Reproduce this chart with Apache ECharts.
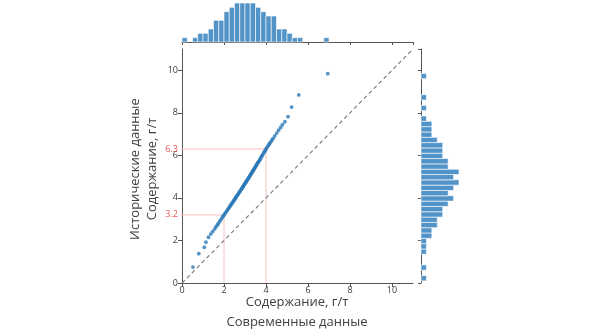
<!DOCTYPE html>
<html>
<head>
<meta charset="utf-8">
<script src="https://cdn.jsdelivr.net/npm/echarts@6/dist/echarts.min.js"></script>
<style>html,body{margin:0;padding:0;background:#fff}#c{width:591px;height:329px}</style>
</head>
<body>
<div id="c"></div>
<script>
// --- data ---
// Top marginal histogram (modern data), bins of 0.25 starting at 0
var topBinStart = 0.0;
var topBinWidth = 0.25;
var topCounts = [1,0,1,2,2,3,5,5,7,8,9,9,9,9,8,7,6,6,3,3,2,1,1,0,0,0,0,1];
// Right marginal histogram (historic data), bins of 0.25 starting at 0.1
var rightBinStart = 0.1;
var rightBinWidth = 0.25;
var rightCounts = [1,0,1,0,0,1,1,1,2,2,3,3,4,4,5,6,5,6,7,6,7,5,5,4,4,4,3,2,2,2,1,0,1,0,1,0,0,0,1];
// Q-Q points: sorted modern (x) vs sorted historic (y)
var modernSorted = [0.52,0.80,1.06,1.14,1.26,1.37,1.46,1.56,1.62,1.68,1.73,1.79,1.85,1.90,1.95,1.99,2.04,2.08,2.13,2.17,2.21,2.25,2.29,2.33,2.36,2.40,2.43,2.47,2.49,2.52,2.55,2.57,2.60,2.63,2.67,2.70,2.73,2.77,2.80,2.83,2.85,2.88,2.91,2.93,2.96,2.98,3.01,3.03,3.05,3.07,3.10,3.13,3.15,3.18,3.20,3.23,3.25,3.28,3.30,3.33,3.35,3.37,3.39,3.41,3.44,3.47,3.50,3.53,3.56,3.59,3.62,3.66,3.69,3.72,3.75,3.79,3.82,3.86,3.90,3.94,3.97,4.01,4.05,4.10,4.14,4.18,4.24,4.29,4.34,4.42,4.51,4.60,4.70,4.78,4.90,5.05,5.22,5.56,6.94];
var historicSorted = [0.75,1.38,1.68,1.92,2.15,2.30,2.42,2.54,2.64,2.72,2.80,2.89,2.97,3.05,3.13,3.19,3.25,3.31,3.38,3.44,3.50,3.56,3.62,3.67,3.72,3.77,3.82,3.87,3.91,3.95,3.99,4.03,4.07,4.12,4.17,4.22,4.27,4.32,4.37,4.41,4.45,4.49,4.53,4.57,4.62,4.65,4.69,4.72,4.76,4.79,4.83,4.87,4.91,4.95,4.99,5.03,5.07,5.12,5.15,5.19,5.22,5.26,5.29,5.32,5.37,5.42,5.47,5.52,5.57,5.62,5.67,5.72,5.77,5.82,5.88,5.94,6.00,6.06,6.13,6.19,6.25,6.31,6.38,6.45,6.51,6.57,6.65,6.73,6.80,6.92,7.05,7.18,7.31,7.44,7.58,7.82,8.27,8.84,9.84];
// reference markers (modern -> historic)
var refModern = [2, 4];
var refHistoric = [3.2, 6.3];
var xName = 'Содержание, г/т';
var xSub = 'Современные данные';
var yName = 'Содержание, г/т';
var ySub = 'Исторические данные';

// --- build options ---
var qq = modernSorted.map(function(x,i){return [x, historicSorted[i]];});
var topData = topCounts.map(function(c,i){return [topBinStart+i*topBinWidth, topBinStart+(i+1)*topBinWidth, c];}).filter(function(d){return d[2]>0;});
var rightData = rightCounts.map(function(c,i){return [rightBinStart+i*rightBinWidth, rightBinStart+(i+1)*rightBinWidth, c];}).filter(function(d){return d[2]>0;});
var refLines = refModern.map(function(x,i){
  return {type:'line', xAxisIndex:0, yAxisIndex:0, data:[[-0.05,refHistoric[i]],[x,refHistoric[i]],[x,0]],
    symbol:'none', silent:true, z:1, lineStyle:{color:'#f6c0c0', width:1}};
});

var axisColor = '#555';
var font = 'Open Sans';
var barColor = '#5293c8';

var option = {
  animation:false,
  backgroundColor:'#fff',
  grid:[
    {left:182, top:49, width:231, height:234},
    {left:182, top:3, width:231, height:39},
    {left:421, top:49, width:38, height:234}
  ],
  xAxis:[
    {gridIndex:0, type:'value', min:0, max:11, interval:2,
     axisLine:{show:true, lineStyle:{color:axisColor}},
     axisTick:{show:true, length:4, lineStyle:{color:axisColor}},
     axisLabel:{show:true, fontSize:9, fontFamily:font, color:'#3a3a3a', margin:3, showMaxLabel:false},
     splitLine:{show:false}},
    {gridIndex:1, type:'value', min:0, max:11, interval:2,
     axisLine:{show:true, lineStyle:{color:axisColor}},
     axisTick:{show:true, length:3, lineStyle:{color:axisColor}},
     axisLabel:{show:false}, splitLine:{show:false}},
    {gridIndex:2, type:'value', min:0, max:7, show:false}
  ],
  yAxis:[
    {gridIndex:0, type:'value', min:0, max:11, interval:2,
     axisLine:{show:true, lineStyle:{color:axisColor}},
     axisTick:{show:true, length:4, lineStyle:{color:axisColor}},
     axisLabel:{show:true, fontSize:9, fontFamily:font, color:'#3a3a3a', margin:4, showMaxLabel:false},
     splitLine:{show:false}},
    {gridIndex:1, type:'value', min:0, max:9, show:false},
    {gridIndex:2, type:'value', min:0, max:11, interval:2,
     axisLine:{show:true, lineStyle:{color:axisColor}},
     axisTick:{show:true, length:3, lineStyle:{color:axisColor}},
     axisLabel:{show:false}, splitLine:{show:false}}
  ],
  series: refLines.concat([
    {type:'line', xAxisIndex:0, yAxisIndex:0, data:[[0,0],[11,11]], symbol:'none', silent:true, z:2,
     lineStyle:{color:'#777', width:1.1, type:[4,3]}},
    {type:'scatter', xAxisIndex:0, yAxisIndex:0, data:qq, symbolSize:3.8, z:3,
     itemStyle:{color:'#2a78b6'}},
    {type:'scatter', xAxisIndex:0, yAxisIndex:0, data:refHistoric.map(function(v){return [0,v];}),
     symbolSize:0, z:4, label:{show:true, position:'left', distance:4, fontSize:9, fontFamily:font, color:'#e0302a',
       formatter:function(p){return p.value[1].toFixed(1);}}},
    {type:'custom', xAxisIndex:1, yAxisIndex:1, data:topData, z:2,
     renderItem:function(params, api){
       var a = api.coord([api.value(0), api.value(2)]);
       var b = api.coord([api.value(1), 0]);
       return {type:'rect', shape:{x:a[0], y:a[1], width:b[0]-a[0], height:b[1]-a[1]},
         style:{fill:barColor, stroke:'rgba(255,255,255,0.75)', lineWidth:0.8}};
     }},
    {type:'custom', xAxisIndex:2, yAxisIndex:2, data:rightData, z:2,
     renderItem:function(params, api){
       var a = api.coord([0, api.value(1)]);
       var b = api.coord([api.value(2), api.value(0)]);
       return {type:'rect', shape:{x:a[0], y:a[1], width:b[0]-a[0], height:b[1]-a[1]},
         style:{fill:barColor, stroke:'rgba(255,255,255,0.75)', lineWidth:0.8}};
     }}
  ]),
  graphic:[
    {type:'text', style:{text:xName, fontSize:13, fontFamily:font, fill:'#404040', textAlign:'center', textVerticalAlign:'middle'}, position:[297,302]},
    {type:'text', style:{text:xSub, fontSize:13, fontFamily:font, fill:'#404040', textAlign:'center', textVerticalAlign:'middle'}, position:[297,322]},
    {type:'text', rotation:Math.PI/2, style:{text:ySub, fontSize:13, fontFamily:font, fill:'#404040', textAlign:'center', textVerticalAlign:'middle'}, position:[135,169]},
    {type:'text', rotation:Math.PI/2, style:{text:yName, fontSize:13, fontFamily:font, fill:'#404040', textAlign:'center', textVerticalAlign:'middle'}, position:[152,169]}
  ]
};
var chart = echarts.init(document.getElementById('c'), null, {renderer:'canvas'});
chart.setOption(option);
</script>
</body>
</html>
